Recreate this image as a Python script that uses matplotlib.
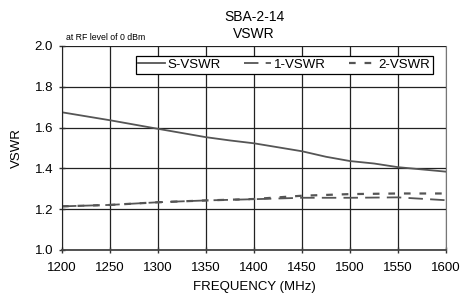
import numpy as np
import matplotlib
matplotlib.use("Agg")
import matplotlib.pyplot as plt

plt.rcParams['font.family'] = ['Liberation Sans', 'DejaVu Sans']

# frecuencias (MHz) y VSWR
freq_s = [1200, 1250, 1300, 1350, 1375, 1400, 1450, 1475, 1500, 1525, 1550, 1575, 1600]
s_vswr = [1.675, 1.636, 1.594, 1.553, 1.537, 1.523, 1.484, 1.457, 1.436, 1.424, 1.406, 1.395, 1.384]

freq_p = [1200, 1250, 1300, 1350, 1400, 1450, 1500, 1550, 1600]
vswr_1 = [1.214, 1.221, 1.234, 1.243, 1.249, 1.256, 1.256, 1.258, 1.244]
vswr_2 = [1.214, 1.221, 1.234, 1.243, 1.250, 1.266, 1.274, 1.277, 1.277]

xticks = [1200, 1250, 1300, 1350, 1400, 1450, 1500, 1550, 1600]
yticks = [1.0, 1.2, 1.4, 1.6, 1.8, 2.0]

fig = plt.figure(figsize=(4.61, 2.98), dpi=100)
ax = fig.add_axes([62/461, 1 - 250/298, 384/461, 204/298])

col = '#555555'
ax.plot(freq_s, s_vswr, color=col, lw=1.3, label='S-VSWR')
ax.plot(freq_p, vswr_1, color=col, lw=1.3, dashes=(8, 4), label='1-VSWR')
ax.plot(freq_p, vswr_2, color=col, lw=1.6, dashes=(3, 4), label='2-VSWR')

ax.set_xlim(1200, 1600)
ax.set_ylim(1.0, 2.0)
ax.set_xticks(xticks)
ax.set_yticks(yticks)
ax.set_yticklabels(['%.1f' % v for v in yticks])
ax.tick_params(labelsize=9.5, direction='inout', length=5, width=1, color='#333333')
ax.tick_params(axis='x', pad=6)
ax.tick_params(axis='y', pad=4)
ax.grid(True, color='#222222', lw=0.9)
ax.spines['top'].set_visible(False)
ax.spines['right'].set_color('#777777')
ax.spines['left'].set_color('#222222')
ax.spines['bottom'].set_color('#444444')
ax.spines['bottom'].set_linewidth(1.3)

leg = ax.legend(loc='upper right', bbox_to_anchor=(0.965, 0.95), ncol=3, fontsize=9.5,
                frameon=True, fancybox=False, edgecolor='black', framealpha=1,
                handlelength=2.0, handletextpad=0.2, columnspacing=1.8,
                borderpad=0.2, borderaxespad=0)
leg.get_frame().set_linewidth(0.9)

ax.set_xlabel('FREQUENCY (MHz)', fontsize=9.5, labelpad=5)
ax.set_ylabel('VSWR', fontsize=9.5, labelpad=8)
fig.text(254/461, 1 - 25.5/298, 'SBA-2-14\nVSWR', ha='center', va='center', fontsize=10, linespacing=1.3)
fig.text(66/461, 1 - 38/298, 'at RF level of 0 dBm', ha='left', va='center', fontsize=6.3)

fig.savefig('out.png', dpi=100)
